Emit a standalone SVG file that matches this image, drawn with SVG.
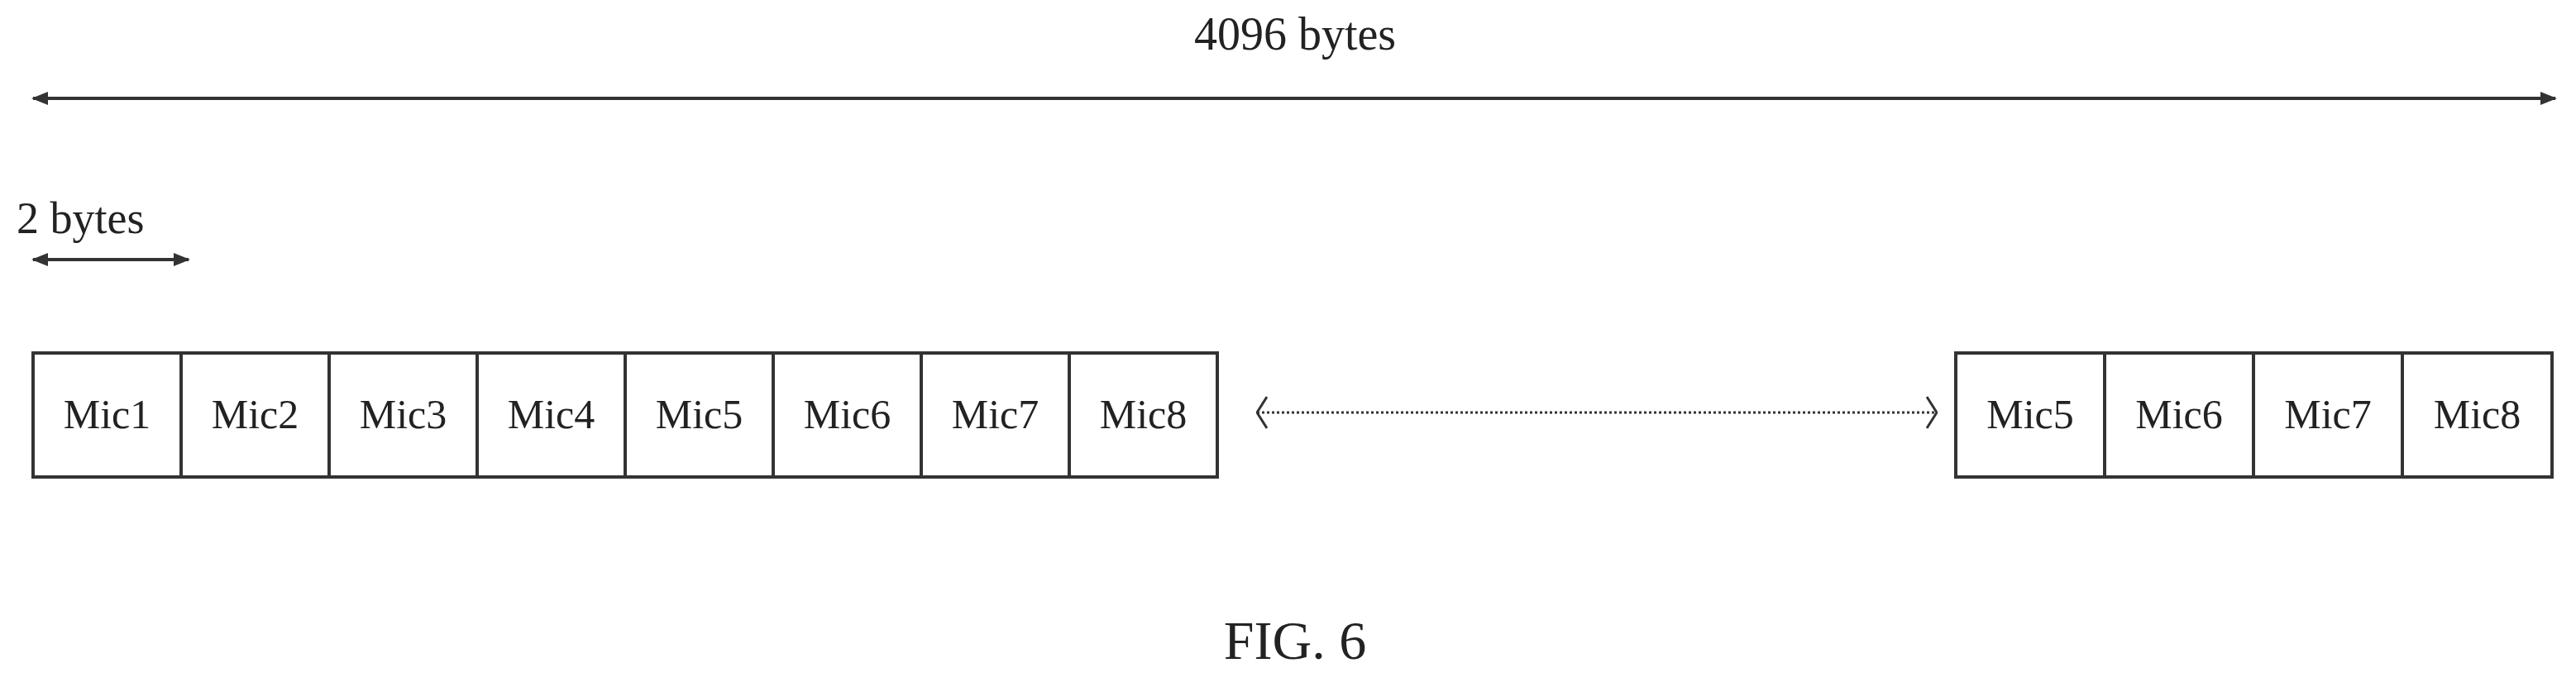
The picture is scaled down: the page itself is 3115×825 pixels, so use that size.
<svg xmlns="http://www.w3.org/2000/svg" width="3115" height="825" viewBox="0 0 3115 825">
<style>
text{font-family:"Liberation Serif",serif;fill:#222}
.box rect{fill:#fff;stroke:#333;stroke-width:4}
.box text{font-size:50px;text-anchor:middle}
.ln{stroke:#333;stroke-width:4;fill:none}
</style>
<defs>
<marker id="a" viewBox="0 0 10 10" refX="9" refY="5" markerWidth="5" markerHeight="5" orient="auto-start-reverse"><path d="M0,1 L10,5 L0,9 Z" fill="#333"/></marker>
<marker id="o" viewBox="0 0 14 40" refX="13" refY="20" markerWidth="14" markerHeight="40" markerUnits="userSpaceOnUse" orient="auto-start-reverse"><path d="M1,1 L13,20 L1,39" fill="none" stroke="#333" stroke-width="3"/></marker>
</defs>
<text x="1566" y="60" font-size="56" text-anchor="middle">4096 bytes</text>
<text x="20" y="282" font-size="54">2 bytes</text>
<text x="1566" y="797" font-size="66" text-anchor="middle">FIG. 6</text>
<g id="connectors">
<line class="ln" x1="40" y1="119" x2="3090" y2="119" marker-start="url(#a)" marker-end="url(#a)"/>
<line class="ln" x1="40" y1="314" x2="228" y2="314" marker-start="url(#a)" marker-end="url(#a)"/>
<line x1="1520" y1="499" x2="2342" y2="499" stroke="#333" stroke-width="3" stroke-dasharray="3,3" marker-start="url(#o)" marker-end="url(#o)"/>
</g>
<g id="left" class="box">
<g id="m1"><rect x="40" y="427" width="179" height="150"/><text x="129.5" y="518">Mic1</text></g>
<g id="m2"><rect x="219" y="427" width="179" height="150"/><text x="308.5" y="518">Mic2</text></g>
<g id="m3"><rect x="398" y="427" width="179" height="150"/><text x="487.5" y="518">Mic3</text></g>
<g id="m4"><rect x="577" y="427" width="179" height="150"/><text x="666.5" y="518">Mic4</text></g>
<g id="m5"><rect x="756" y="427" width="179" height="150"/><text x="845.5" y="518">Mic5</text></g>
<g id="m6"><rect x="935" y="427" width="179" height="150"/><text x="1024.5" y="518">Mic6</text></g>
<g id="m7"><rect x="1114" y="427" width="179" height="150"/><text x="1203.5" y="518">Mic7</text></g>
<g id="m8"><rect x="1293" y="427" width="179" height="150"/><text x="1382.5" y="518">Mic8</text></g>
</g>
<g id="right" class="box">
<g id="r5"><rect x="2365" y="427" width="180" height="150"/><text x="2455" y="518">Mic5</text></g>
<g id="r6"><rect x="2545" y="427" width="180" height="150"/><text x="2635" y="518">Mic6</text></g>
<g id="r7"><rect x="2725" y="427" width="180" height="150"/><text x="2815" y="518">Mic7</text></g>
<g id="r8"><rect x="2905" y="427" width="181" height="150"/><text x="2995.5" y="518">Mic8</text></g>
</g>
</svg>
